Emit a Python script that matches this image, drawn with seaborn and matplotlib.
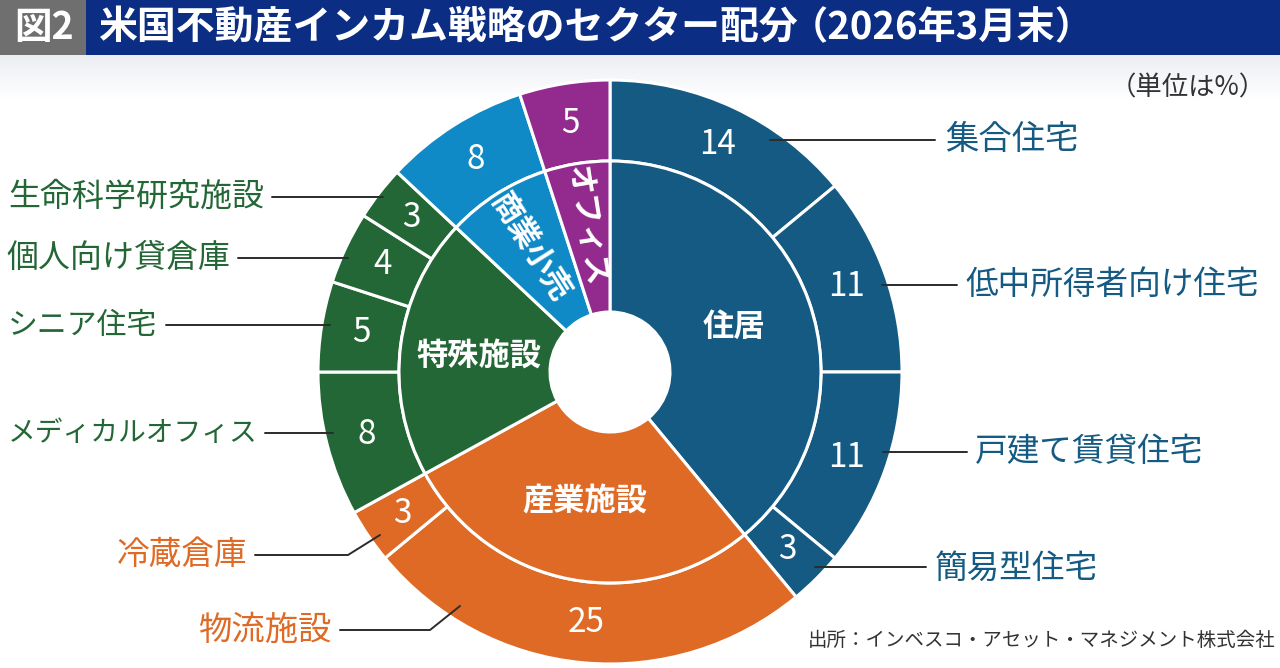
import numpy as np
import matplotlib.pyplot as plt
import seaborn as sns
from matplotlib.colors import LinearSegmentedColormap

# inner ring: sectors (clockwise from 12 o'clock)
sectors = ['住居', '産業施設', '特殊施設', '商業小売', 'オフィス']
sector_colors = ['#145a83', '#de6a25', '#246736', '#108ac7', '#922b8d']

# outer ring: sub sectors
sub_names = ['集合住宅', '低中所得者向け住宅', '戸建て賃貸住宅', '簡易型住宅',
             '物流施設', '冷蔵倉庫',
             'メディカルオフィス', 'シニア住宅', '個人向け貸倉庫', '生命科学研究施設',
             '商業小売', 'オフィス']
sub_values = [14, 11, 11, 3, 25, 3, 8, 5, 4, 3, 8, 5]
sub_sector = [0, 0, 0, 0, 1, 1, 2, 2, 2, 2, 3, 4]

sector_values = [sum(v for v, s in zip(sub_values, sub_sector) if s == i)
                 for i in range(len(sectors))]
sub_colors = [sector_colors[s] for s in sub_sector]

sns.set_theme(style="white")
plt.rcParams['font.family'] = ['Noto Sans CJK JP', 'DejaVu Sans']

H = 668
def Y(y):
    return H - y

fig = plt.figure(figsize=(12.8, 6.68), dpi=100)
ax = fig.add_axes([0, 0, 1, 1])

# light band under the title
grad = np.linspace(0, 1, 50).reshape(-1, 1)
cmap = LinearSegmentedColormap.from_list('band', ['#eceef3', '#ffffff'])
ax.imshow(grad, extent=[0, 1280, Y(100), Y(55)], cmap=cmap, aspect='auto', zorder=0)

cx, cy = 610, Y(372)
R_out, R_mid, R_hole = 292, 211, 60

ax.pie(sub_values, colors=sub_colors, startangle=90, counterclock=False,
       radius=R_out, center=(cx, cy),
       wedgeprops=dict(width=R_out - R_mid, edgecolor='white', linewidth=2.2))
ax.pie(sector_values, colors=sector_colors, startangle=90, counterclock=False,
       radius=R_mid, center=(cx, cy),
       wedgeprops=dict(width=R_mid - R_hole, edgecolor='white', linewidth=2.2))

def mid_angles(values):
    cum = np.cumsum(values) - np.array(values) / 2
    return 90 - cum / sum(values) * 360

# value labels on the outer ring
for v, a in zip(sub_values, mid_angles(sub_values)):
    r = (R_out + R_mid) / 2
    ax.text(cx + r * np.cos(np.radians(a)), cy + r * np.sin(np.radians(a)), str(v),
            ha='center', va='center', color='white', fontsize=24)

# sector labels on the inner ring
for name, a in zip(sectors, mid_angles(sector_values)):
    if name in ('商業小売', 'オフィス'):
        r, rot, fs = 148, a - 180, 22
    else:
        r, rot, fs = 132, 0, 22.5
    ax.text(cx + r * np.cos(np.radians(a)), cy + r * np.sin(np.radians(a)), name,
            ha='center', va='center', color='white', fontsize=fs, fontweight='bold',
            rotation=rot, rotation_mode='anchor')

# outer labels with leader lines: text x, text y, align, size, line points
callouts = {
    '集合住宅': (945, 140, 'left', 24, [(770, 140), (935, 140)]),
    '低中所得者向け住宅': (965, 285, 'left', 23.5, [(882, 285), (957, 285)]),
    '戸建て賃貸住宅': (975, 452, 'left', 23.5, [(883, 452), (967, 452)]),
    '簡易型住宅': (935, 569, 'left', 23.5, [(815, 567), (926, 567)]),
    '物流施設': (332, 630, 'right', 24, [(460, 606), (430, 630), (340, 630)]),
    '冷蔵倉庫': (247, 555, 'right', 23.5, [(380, 535), (348, 555), (255, 555)]),
    'メディカルオフィス': (258, 433, 'right', 20, [(333, 433), (265, 433)]),
    'シニア住宅': (157, 325, 'right', 21.5, [(330, 325), (166, 325)]),
    '個人向け貸倉庫': (230, 258, 'right', 23, [(348, 258), (238, 258)]),
    '生命科学研究施設': (264, 197, 'right', 23, [(383, 197), (272, 197)]),
}
for name, s in zip(sub_names, sub_sector):
    if name not in callouts:
        continue
    tx, ty, ha, fs, pts = callouts[name]
    xs, ys = zip(*pts)
    ax.plot(xs, [Y(y) for y in ys], color='#2b2b2b', lw=1.4, zorder=3)
    ax.text(tx, Y(ty), name, ha=ha, va='center', color=sector_colors[s], fontsize=fs)

# title bar
ax.add_patch(plt.Rectangle((0, Y(55)), 1280, 55, color='#0b2d84', zorder=1, lw=0))
ax.add_patch(plt.Rectangle((0, Y(55)), 86, 55, color='#6f6f6f', zorder=2, lw=0))
ax.text(44, Y(28), '図2', ha='center', va='center', color='white',
        fontsize=27, fontweight='bold', zorder=3)
ax.text(98, Y(28), '米国不動産インカム戦略のセクター配分', ha='left', va='center',
        color='white', fontsize=28, fontweight='bold', zorder=3)
ax.text(790, Y(28), '（2026年3月末）', ha='left', va='center',
        color='white', fontsize=27.5, fontweight='bold', zorder=3)

ax.text(1266, Y(88), '（単位は%）', ha='right', va='center', color='#333333', fontsize=19)
ax.text(1276, Y(640), '出所：インベスコ・アセット・マネジメント株式会社', ha='right',
        va='center', color='#333333', fontsize=14)

ax.set_xlim(0, 1280)
ax.set_ylim(0, H)
ax.set_aspect('equal')
ax.axis('off')

fig.savefig('out.png', dpi=100)
